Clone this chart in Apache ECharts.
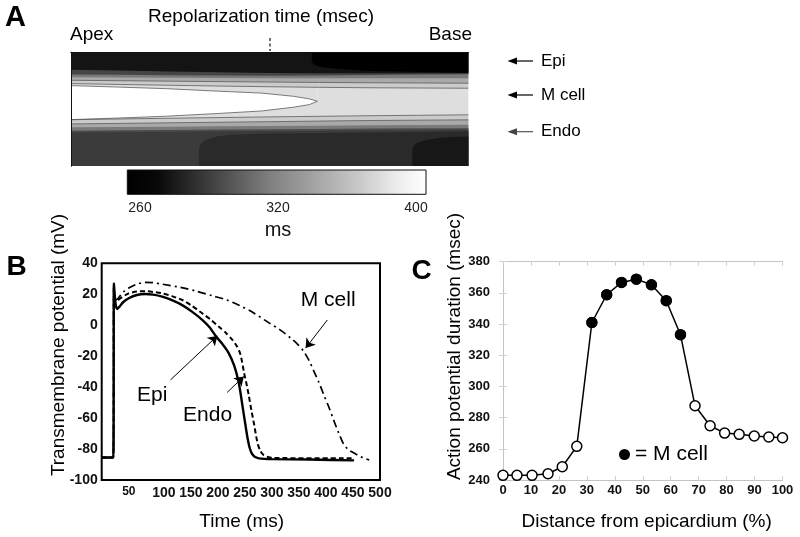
<!DOCTYPE html>
<html><head><meta charset="utf-8">
<script src="https://cdn.jsdelivr.net/npm/echarts@6/dist/echarts.min.js"></script>
<style>html,body{margin:0;padding:0;background:#fff}#c{width:800px;height:537px}</style>
</head><body><div id="c"></div>
<script>
// ---------------- Panel A: repolarization-time map ----------------
// x: apex -> base (%), y: depth from epicardium (%)
const bandX = [0, 12.5, 25, 37.5, 50, 62.5, 75, 87.5, 100];
const upperBand1 = [27.5, 28.3, 29, 29.7, 30.3, 30.8, 31.2, 31.4, 31.6];
const upperBand2 = [24.6, 25, 25.4, 25.8, 26.2, 26.5, 26.8, 27, 27.2];
const upperBand3 = [22, 22.2, 22.4, 22.6, 22.8, 22.8, 22.8, 22.8, 22.8];
const upperBand4 = [19.6, 19.8, 20.1, 20.4, 20.6, 20.4, 20, 19.6, 19.2];
const epiLeftEdge = [15.3, 16, 16.8, 17.5, 18.2, 18.4, 18.5, 18.5, 18.5];
const lowerBand1 = [59.3, 58.6, 58, 57.4, 56.8, 56.3, 55.8, 55.4, 55];
const lowerBand2 = [63, 62.5, 62, 61.5, 61, 60.5, 60, 59.7, 59.4];
const lowerBand3 = [66, 65.7, 65.4, 65.1, 64.8, 64.5, 64.2, 64, 63.8];
const lowerBand4 = [68.9, 68.6, 68.3, 68, 67.7, 67.4, 67.1, 66.9, 66.7];
const endoEdge = [70.4, 70.1, 69.8, 69.5, 69.2, 68.9, 68.6, 68.3, 68];
const wedgeX = [0, 12, 24, 36, 48, 56, 60, 62];
const wedgeTop = [29.3, 30.6, 32, 34, 35.9, 38.7, 41, 43];
const wedgeBottom = [59.2, 57.8, 56.2, 54, 51.6, 48.3, 46, 43];
const epiBaseX = [60.6, 60.6, 61, 62.3, 64, 67, 75, 100];
const epiBaseDepth = [0, 7.9, 10.5, 12.3, 13.5, 14.5, 16.5, 18];
const endoMidX = [32.2, 32.2, 32.5, 33.5, 35, 37, 40, 50, 62.5, 75, 87.5, 100];
const endoMidDepth = [100, 85, 81, 78, 75.5, 73.8, 72.5, 71.5, 71, 70.5, 70, 69.5];
const endoBaseX = [85.9, 85.9, 86.3, 87.3, 88.8, 90.4, 93, 96, 100];
const endoBaseDepth = [100, 86, 82, 79.5, 77.8, 76.4, 75.2, 74.5, 74.1];
const colorbarLabels = ['260', '320', '400'];
const layerNames = ['Epi', 'M cell', 'Endo'];

// ---------------- Panel B: action potentials (time ms, mV) ----------------
const epiTrace = [[-15,-85.5],[6.5,-85.5],[7.5,27],[9,20],[11,13],[14,10.5],[18,12],[25,15],[35,17.4],[50,19.5],[65,20.2],[80,19.8],[97,18.5],[115,16.2],[134,13],[152,8.8],[171,3.5],[185,-1.5],[196,-7],[208,-12],[220,-18],[230,-26],[238,-36],[242,-44],[245,-51],[249,-60],[253,-69],[256,-75],[259,-79.5],[263,-83],[268,-85],[276,-86],[300,-86.5],[370,-86.8],[452,-87.3]];
const endoTrace = [[-15,-85.5],[6.5,-85.5],[7.5,25],[9,18],[12,15.5],[20,17.5],[35,20.6],[50,21.8],[66,22],[80,21.5],[97,20.6],[115,18.8],[134,16.3],[152,12.5],[171,7.7],[187,3.5],[202,-1],[215,-5],[227,-9.5],[235,-13.5],[241,-18],[245,-24],[248,-30],[253,-38],[257,-45],[262,-55],[267,-64],[271,-72],[274,-77],[279,-81.5],[285,-84],[294,-85.3],[304,-85.8],[452,-86]];
const mcellTrace = [[-15,-85.5],[6.5,-85.5],[7.5,26],[9,18],[12,16.5],[18,18.5],[25,21.5],[35,24],[50,26.5],[66,27.7],[80,27.5],[97,26.5],[130,24.5],[159,22.1],[190,19],[215,16.5],[240,12.8],[265,8.2],[291,2.3],[315,-3],[335,-8.4],[348,-12.5],[359,-17],[369,-23],[378,-30],[387,-37],[396,-45],[406,-53.5],[415,-62],[424,-70],[433,-77],[442,-80.5],[452,-82.6],[462,-84.5],[470,-85.8],[480,-87]];
const bLabels = [{name:'M cell', coord:[404,15.9]},{name:'Epi', coord:[78.5,-45]},{name:'Endo', coord:[181,-57.9]}];
const bArrows = [[[112.4,-35.3],[198.9,-6.9]],[[217.2,-43.4],[248,-33.1]],[[402.6,3.4],[362.4,-14.8]]];

// ---------------- Panel C: APD vs distance ----------------
const distPct = [0, 5.0, 10.4, 16.1, 21.2, 26.4, 31.8, 37.1, 42.4, 47.7, 53.1, 58.4, 63.5, 68.7, 74.1, 79.3, 84.5, 89.9, 95.1, 100];
const apd = [243, 243, 243, 244, 248.5, 261.6, 341, 358.8, 366.7, 368.8, 365.2, 355, 333.2, 287.6, 274.8, 270.1, 269.3, 268.2, 267.6, 267.1];
const isMcell = [0,0,0,0,0,0,1,1,1,1,1,1,1,0,0,0,0,0,0,0];

const FONT = '"Liberation Sans", Arial, sans-serif';

function region(xs, ys, fill, origin, edge) {
  return {
    type: 'line', xAxisIndex: 0, yAxisIndex: 0, silent: true, symbol: 'none',
    data: xs.map((x, i) => [x, ys[i]]),
    lineStyle: edge ? {color: '#5c5c5c', width: 0.8} : {color: fill, width: 0, opacity: 0},
    areaStyle: {color: fill, opacity: 1, origin: origin}
  };
}

const aSeries = [
  region(wedgeX, wedgeBottom, '#ffffff', 'start', true),
  region(wedgeX, wedgeTop, '#dedede', 'start', true),
  region(bandX, upperBand1, '#cbcbcb', 'start', true),
  region(bandX, upperBand2, '#a9a9a9', 'start', true),
  region(bandX, upperBand3, '#7a7a7a', 'start', false),
  region(bandX, upperBand4, '#454545', 'start', false),
  region(bandX, epiLeftEdge, '#141414', 'start', false),
  region(epiBaseX, epiBaseDepth, '#000000', 'start', false),
  region(bandX, lowerBand1, '#cbcbcb', 'end', true),
  region(bandX, lowerBand2, '#a9a9a9', 'end', true),
  region(bandX, lowerBand3, '#7a7a7a', 'end', false),
  region(bandX, lowerBand4, '#4c4c4c', 'end', false),
  region(bandX, endoEdge, '#3b3b3b', 'end', false),
  region(endoMidX, endoMidDepth, '#2a2a2a', 'end', false),
  region(endoBaseX, endoBaseDepth, '#171717', 'end', false)
];

const hiddenAx = {axisLabel:{show:false}, axisTick:{show:false}, splitLine:{show:false}};
const boxLine = {show:true, lineStyle:{color:'#111', width:1}};
const lightLine = {show:true, lineStyle:{color:'#c4c4c4', width:1}};
const arrowY = [61, 95, 131.7];

const option = {
  animation: false,
  textStyle: {fontFamily: FONT, color: '#000'},
  grid: [
    {left: 71, top: 52.3, width: 397.3, height: 113.7, show: true, backgroundColor: '#dedede', borderWidth: 0},
    {left: 101.7, top: 263.3, width: 278.3, height: 216.7, show: true, borderColor: '#000', borderWidth: 2},
    {left: 503, top: 261.7, width: 279.5, height: 218.3},
    {left: 140, top: 170, width: 276, height: 24.3}
  ],
  xAxis: [
    Object.assign({type:'value', gridIndex:0, min:0, max:100, position:'bottom', axisLine: boxLine, z: 10}, hiddenAx),
    Object.assign({type:'value', gridIndex:0, min:0, max:100, position:'top', axisLine: boxLine, z: 10}, hiddenAx),
    {type:'value', gridIndex:1, min:-15, max:500, interval:5, axisLine:{show:false}, axisTick:{show:false}, splitLine:{show:false},
      axisLabel:{margin:6, fontSize:14, fontWeight:'bold', color:'#111',
        formatter: v => (v >= 50 && v % 50 === 0) ? (v === 50 ? '{s|50}' : String(v)) : '',
        rich:{s:{fontSize:12, fontWeight:'bold', color:'#111', padding:[0,16,0,0]}}}},
    {type:'value', gridIndex:2, min:0, max:100, interval:10, axisLine: lightLine,
      axisTick:{show:true, inside:true, length:4, lineStyle:{color:'#d0d0d0'}}, splitLine:{show:false},
      axisLabel:{margin:4, fontSize:13, fontWeight:'bold', color:'#111'}},
    {type:'value', gridIndex:2, min:0, max:100, interval:10, position:'top', axisLine: lightLine,
      axisTick:{show:true, inside:true, length:4, lineStyle:{color:'#d0d0d0'}}, splitLine:{show:false}, axisLabel:{show:false}},
    {type:'category', gridIndex:3, data: colorbarLabels, boundaryGap:false, axisLine:{show:false}, axisTick:{show:false},
      axisLabel:{margin:7, fontSize:14, color:'#222'}, name:'ms', nameLocation:'middle', nameGap:26,
      nameTextStyle:{fontSize:20, color:'#111'}}
  ],
  yAxis: [
    Object.assign({type:'value', gridIndex:0, min:0, max:100, inverse:true, position:'left', axisLine: boxLine, z: 10}, hiddenAx),
    Object.assign({type:'value', gridIndex:0, min:0, max:100, inverse:true, position:'right', axisLine: boxLine, z: 10}, hiddenAx),
    {type:'value', gridIndex:1, min:-100, max:40, interval:20, axisLine:{show:false}, axisTick:{show:false}, splitLine:{show:false},
      axisLabel:{margin:4, fontSize:14, fontWeight:'bold', color:'#111'}},
    {type:'value', gridIndex:2, min:240, max:380, interval:20, axisLine: lightLine,
      axisTick:{show:true, inside:true, length:4, lineStyle:{color:'#d0d0d0'}}, splitLine:{show:false},
      axisLabel:{margin:13, fontSize:13, fontWeight:'bold', color:'#111'}},
    {type:'value', gridIndex:2, min:240, max:380, interval:20, position:'right', axisLine: lightLine,
      axisTick:{show:true, inside:true, length:4, lineStyle:{color:'#d0d0d0'}}, splitLine:{show:false}, axisLabel:{show:false}},
    {type:'value', gridIndex:3, show:false}
  ],
  legend: {
    data: [{name: '= M cell', icon: 'circle', itemStyle: {color: '#000', opacity: 1}}], left: 614, top: 439, itemWidth: 11, itemHeight: 11,
    selectedMode: false, textStyle: {fontSize: 21, color: '#000', fontFamily: FONT}
  },
  series: aSeries.concat([
    {type:'line', name:'Epi', xAxisIndex:2, yAxisIndex:2, data: epiTrace, symbol:'none', smooth:0.2,
      lineStyle:{color:'#000', width:2.4},
      markLine:{silent:true, symbol:['none','arrow'], symbolSize:9, label:{show:false},
        lineStyle:{color:'#000', width:1, type:'solid'},
        data: bArrows.map(a => [{coord:a[0]}, {coord:a[1]}])},
      markPoint:{silent:true, symbol:'circle', symbolSize:0,
        label:{show:true, position:'inside', formatter:'{b}', fontSize:21, color:'#000', fontFamily: FONT},
        data: bLabels.map(l => ({name:l.name, coord:l.coord}))}},
    {type:'line', name:'Endo', xAxisIndex:2, yAxisIndex:2, data: endoTrace, symbol:'none', smooth:0.2,
      lineStyle:{color:'#000', width:2, type:[5,3]}},
    {type:'line', name:'M cell', xAxisIndex:2, yAxisIndex:2, data: mcellTrace, symbol:'none', smooth:0.3,
      lineStyle:{color:'#000', width:1.7, type:[8,4,2,4]}},
    {type:'line', name:'APD', xAxisIndex:3, yAxisIndex:3, data: distPct.map((x,i)=>[x, apd[i]]),
      symbol:'circle', symbolSize:10, showAllSymbol:true, clip:false,
      lineStyle:{color:'#000', width:1.5},
      itemStyle:{color:'#fff', borderColor:'#000', borderWidth:1.5}},
    {type:'scatter', name:'= M cell', xAxisIndex:3, yAxisIndex:3,
      data: distPct.map((x,i)=>[x, apd[i]]).filter((p,i)=>isMcell[i]),
      symbol:'circle', symbolSize:11, itemStyle:{color:'#000', opacity:1}, z:5}
  ]),
  graphic: [
    {type:'text', x:15.5, y:18, style:{text:'A', fontSize:29, fontWeight:'bold', fontFamily:FONT, fill:'#000', textAlign:'center', textVerticalAlign:'middle'}},
    {type:'text', x:261, y:17, style:{text:'Repolarization time (msec)', fontSize:19, fontFamily:FONT, fill:'#000', textAlign:'center', textVerticalAlign:'middle'}},
    {type:'text', x:70, y:35, style:{text:'Apex', fontSize:19, fontFamily:FONT, fill:'#000', textAlign:'left', textVerticalAlign:'middle'}},
    {type:'text', x:472, y:35, style:{text:'Base', fontSize:19, fontFamily:FONT, fill:'#000', textAlign:'right', textVerticalAlign:'middle'}},
    {type:'line', shape:{x1:270, y1:38, x2:270, y2:51}, style:{stroke:'#222', lineWidth:1.3, lineDash:[3,2.5]}},
    {type:'rect', shape:{x:127.3, y:170, width:298.7, height:24.3},
      style:{fill:new echarts.graphic.LinearGradient(0,0,1,0,[
        {offset:0, color:'#000'},{offset:0.1, color:'#080808'},{offset:0.28, color:'#404040'},
        {offset:0.48, color:'#808080'},{offset:0.62, color:'#a2a2a2'},{offset:0.78, color:'#cacaca'},
        {offset:0.9, color:'#ececec'},{offset:1, color:'#fff'}]), stroke:'#111', lineWidth:1}},
    ...layerNames.map((t, i) => ({type:'group', children:[
      {type:'line', shape:{x1:512, y1:arrowY[i], x2:533, y2:arrowY[i]}, style:{stroke: i===2?'#555':'#000', lineWidth:1.2}},
      {type:'polygon', shape:{points:[[507.5,arrowY[i]],[517,arrowY[i]-3.5],[517,arrowY[i]+3.5]]}, style:{fill: i===2?'#444':'#000'}},
      {type:'text', x:541, y:arrowY[i], style:{text:t, fontSize:17, fontFamily:FONT, fill:'#000', textAlign:'left', textVerticalAlign:'middle'}}
    ]})),
    {type:'text', x:16.7, y:267, style:{text:'B', fontSize:28, fontWeight:'bold', fontFamily:FONT, fill:'#000', textAlign:'center', textVerticalAlign:'middle'}},
    {type:'text', x:58.3, y:345, rotation:Math.PI/2, style:{text:'Transmembrane potential (mV)', fontSize:19, fontFamily:FONT, fill:'#000', textAlign:'center', textVerticalAlign:'middle'}},
    {type:'text', x:241.7, y:521.7, style:{text:'Time (ms)', fontSize:19, fontFamily:FONT, fill:'#000', textAlign:'center', textVerticalAlign:'middle'}},
    {type:'text', x:421.7, y:271.7, style:{text:'C', fontSize:28, fontWeight:'bold', fontFamily:FONT, fill:'#000', textAlign:'center', textVerticalAlign:'middle'}},
    {type:'text', x:455, y:346.5, rotation:Math.PI/2, style:{text:'Action potential duration (msec)', fontSize:19, fontFamily:FONT, fill:'#000', textAlign:'center', textVerticalAlign:'middle'}},
    {type:'text', x:646.7, y:521.7, style:{text:'Distance from epicardium (%)', fontSize:19, fontFamily:FONT, fill:'#000', textAlign:'center', textVerticalAlign:'middle'}}
  ]
};

const chart = echarts.init(document.getElementById('c'), null, {renderer:'canvas'});
chart.setOption(option);
</script>
</body></html>
